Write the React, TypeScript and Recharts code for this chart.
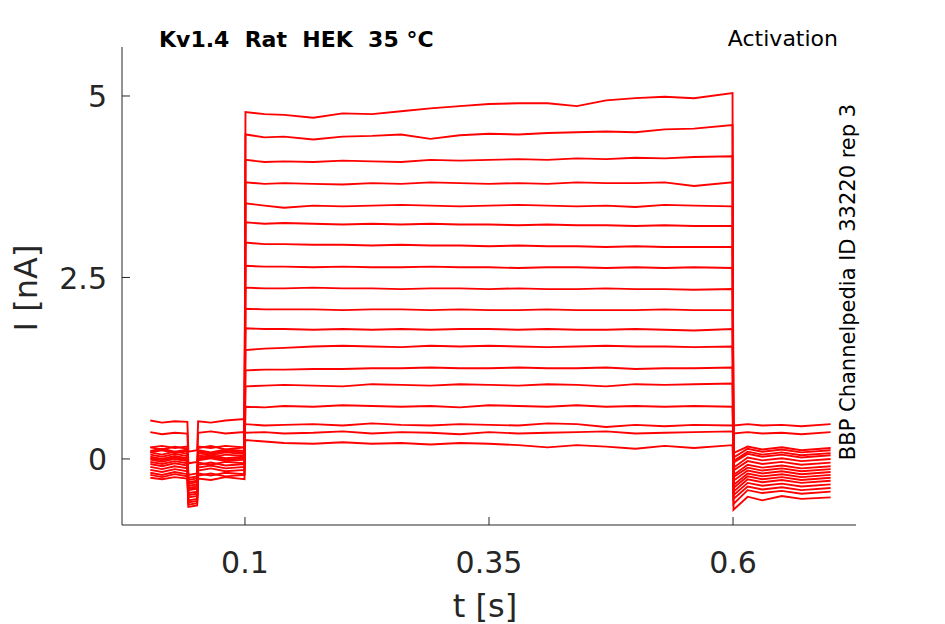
import React from 'react'
import { LineChart, Line, XAxis, YAxis } from 'recharts'

// sample times (s): holding, step, tail
const preTimes = [0.003, 0.015, 0.028, 0.041, 0.042, 0.051, 0.052, 0.065, 0.08, 0.0995]
const stepTimes = [0.1005, 0.12, 0.14, 0.17, 0.2, 0.23, 0.26, 0.29, 0.32, 0.35, 0.38, 0.41, 0.44, 0.47, 0.5, 0.53, 0.56, 0.5995]
const tailTimes = [0.6005, 0.615, 0.63, 0.65, 0.67, 0.7]

// current traces in nA, one per voltage step
const trace01 = [-0.04, -0.07, -0.03, -0.06, -0.47, -0.45, -0.05, -0.08, -0.04, -0.06,
  4.78, 4.75, 4.74, 4.7, 4.76, 4.75, 4.79, 4.83, 4.86, 4.89, 4.9, 4.9, 4.86, 4.94, 4.97, 4.99, 4.97, 5.04,
  -0.55, -0.38, -0.42, -0.39, -0.43, -0.4]
const trace02 = [0.09, 0.12, 0.08, 0.11, -0.32, -0.3, 0.1, 0.07, 0.11, 0.09,
  4.47, 4.43, 4.44, 4.4, 4.44, 4.45, 4.47, 4.41, 4.46, 4.48, 4.47, 4.49, 4.5, 4.51, 4.5, 4.54, 4.55, 4.6,
  -0.3, -0.16, -0.2, -0.17, -0.21, -0.18]
const trace03 = [-0.19, -0.22, -0.18, -0.21, -0.6, -0.58, -0.2, -0.23, -0.19, -0.21,
  4.12, 4.09, 4.1, 4.09, 4.11, 4.1, 4.09, 4.12, 4.11, 4.12, 4.13, 4.12, 4.14, 4.13, 4.15, 4.14, 4.16, 4.17,
  -0.05, 0.07, 0.03, 0.06, 0.02, 0.05]
const trace04 = [0.03, 0.0, 0.04, 0.01, -0.4, -0.38, 0.02, 0.05, 0.01, 0.03,
  3.81, 3.79, 3.8, 3.79, 3.78, 3.8, 3.79, 3.81, 3.8, 3.79, 3.8, 3.79, 3.81, 3.8, 3.8, 3.81, 3.76, 3.81,
  -0.45, -0.28, -0.32, -0.29, -0.33, -0.3]
const trace05 = [-0.11, -0.14, -0.1, -0.13, -0.53, -0.51, -0.12, -0.09, -0.13, -0.11,
  3.52, 3.49, 3.46, 3.49, 3.48, 3.49, 3.5, 3.49, 3.48, 3.49, 3.5, 3.49, 3.48, 3.49, 3.47, 3.5, 3.49, 3.48,
  -0.22, -0.08, -0.12, -0.09, -0.13, -0.1]
const trace06 = [0.16, 0.13, 0.17, 0.14, -0.26, -0.24, 0.15, 0.18, 0.13, 0.16,
  3.26, 3.24, 3.25, 3.24, 3.23, 3.24, 3.23, 3.24, 3.23, 3.23, 3.22, 3.23, 3.22, 3.22, 3.21, 3.22, 3.21, 3.21,
  0.02, 0.14, 0.1, 0.13, 0.09, 0.12]
const trace07 = [-0.26, -0.28, -0.25, -0.27, -0.66, -0.64, -0.27, -0.29, -0.25, -0.28,
  2.98, 2.96, 2.96, 2.95, 2.95, 2.94, 2.95, 2.94, 2.94, 2.93, 2.94, 2.93, 2.93, 2.92, 2.93, 2.92, 2.92, 2.92,
  -0.7, -0.52, -0.57, -0.51, -0.55, -0.53]
const trace08 = [0.06, 0.03, 0.07, 0.04, -0.37, -0.35, 0.05, 0.02, 0.06, 0.04,
  2.66, 2.65, 2.65, 2.64, 2.65, 2.64, 2.64, 2.65, 2.64, 2.64, 2.63, 2.64, 2.64, 2.63, 2.64, 2.63, 2.64, 2.63,
  -0.36, -0.2, -0.24, -0.21, -0.25, -0.22]
const trace09 = [-0.07, -0.1, -0.06, -0.09, -0.5, -0.48, -0.08, -0.05, -0.09, -0.07,
  2.36, 2.35, 2.35, 2.36, 2.35, 2.35, 2.34, 2.35, 2.35, 2.34, 2.35, 2.34, 2.34, 2.35, 2.34, 2.34, 2.33, 2.34,
  -0.12, 0.02, -0.02, 0.01, -0.03, 0.0]
const trace10 = [0.11, 0.14, 0.1, 0.13, -0.29, -0.27, 0.12, 0.09, 0.13, 0.11,
  2.07, 2.06, 2.06, 2.06, 2.05, 2.06, 2.06, 2.05, 2.06, 2.05, 2.05, 2.06, 2.05, 2.05, 2.05, 2.06, 2.05, 2.05,
  -0.5, -0.33, -0.37, -0.34, -0.38, -0.35]
const trace11 = [-0.15, -0.18, -0.14, -0.17, -0.57, -0.55, -0.16, -0.13, -0.17, -0.15,
  1.8, 1.79, 1.79, 1.78, 1.79, 1.78, 1.79, 1.78, 1.79, 1.79, 1.78, 1.79, 1.78, 1.78, 1.79, 1.78, 1.77, 1.79,
  -0.03, 0.1, 0.06, 0.09, 0.05, 0.08]
const trace12 = [-0.01, -0.04, 0.0, -0.03, -0.43, -0.41, -0.02, 0.01, -0.03, -0.01,
  1.5, 1.52, 1.53, 1.55, 1.56, 1.55, 1.54, 1.56, 1.55, 1.56, 1.55, 1.54, 1.55, 1.56, 1.55, 1.55, 1.54, 1.55,
  -0.4, -0.24, -0.28, -0.25, -0.29, -0.26]
const trace13 = [0.09, 0.06, 0.1, 0.07, -0.34, -0.32, 0.08, 0.05, 0.09, 0.07,
  1.22, 1.23, 1.23, 1.24, 1.24, 1.25, 1.25, 1.26, 1.25, 1.25, 1.26, 1.25, 1.25, 1.26, 1.24, 1.25, 1.25, 1.26,
  -0.16, -0.03, -0.07, -0.04, -0.08, -0.05]
const trace14 = [-0.22, -0.25, -0.21, -0.24, -0.63, -0.61, -0.23, -0.2, -0.24, -0.22,
  1.0, 1.01, 1.02, 1.01, 1.0, 1.03, 1.02, 1.01, 1.03, 1.02, 1.01, 1.03, 1.02, 1.0, 1.03, 1.02, 1.03, 1.04,
  -0.62, -0.43, -0.47, -0.44, -0.48, -0.45]
const trace15 = [0.01, -0.02, 0.02, -0.01, -0.42, -0.4, 0.0, 0.03, -0.01, 0.01,
  0.72, 0.71, 0.73, 0.72, 0.74, 0.73, 0.72, 0.73, 0.71, 0.74, 0.73, 0.72, 0.74, 0.72, 0.73, 0.72, 0.73, 0.72,
  0.08, 0.17, 0.13, 0.16, 0.12, 0.15]
const trace16 = [0.53, 0.5, 0.52, 0.51, 0.1, 0.12, 0.52, 0.5, 0.53, 0.55,
  0.48, 0.46, 0.47, 0.48, 0.46, 0.49, 0.47, 0.46, 0.48, 0.47, 0.46, 0.49, 0.48, 0.44, 0.47, 0.45, 0.47, 0.46,
  0.46, 0.48, 0.46, 0.47, 0.45, 0.48]
const trace17 = [0.37, 0.34, 0.36, 0.35, -0.06, -0.04, 0.36, 0.38, 0.35, 0.37,
  0.36, 0.37, 0.35, 0.36, 0.38, 0.35, 0.37, 0.36, 0.34, 0.37, 0.35, 0.36, 0.37, 0.38, 0.35, 0.36, 0.37, 0.38,
  0.35, 0.37, 0.35, 0.36, 0.34, 0.37]
const trace18 = [0.16, 0.18, 0.15, 0.17, -0.22, -0.2, 0.17, 0.15, 0.18, 0.16,
  0.26, 0.24, 0.22, 0.21, 0.23, 0.21, 0.22, 0.2, 0.22, 0.21, 0.19, 0.16, 0.19, 0.17, 0.14, 0.18, 0.15, 0.19,
  -0.25, -0.12, -0.16, -0.13, -0.17, -0.14]

const traces = [trace01, trace02, trace03, trace04, trace05, trace06, trace07, trace08, trace09,
  trace10, trace11, trace12, trace13, trace14, trace15, trace16, trace17, trace18]

const xTicks = [0.1, 0.35, 0.6]
const yTicks = [0, 2.5, 5]

const times = [...preTimes, ...stepTimes, ...tailTimes]
const data = times.map((t, i) => {
  const row: Record<string, number> = { t }
  traces.forEach((tr, k) => { row['s' + k] = tr[i] })
  return row
})

const axisColor = '#262626'
const font = 'DejaVu Sans, sans-serif'

const XTick = ({ x, y, payload }: any) => (
  <g>
    <line x1={x} x2={x} y1={y} y2={y - 8} stroke={axisColor} />
    <text x={x} y={y + 48} textAnchor="middle" fontSize={30} fontFamily={font} fill={axisColor}>
      {payload.value}
    </text>
  </g>
)

const YTick = ({ x, y, payload }: any) => (
  <g>
    <line x1={x} x2={x + 8} y1={y} y2={y} stroke={axisColor} />
    <text x={x - 15} y={y + 11.5} textAnchor="end" fontSize={30} fontFamily={font} fill={axisColor}>
      {payload.value}
    </text>
  </g>
)

export default function App() {
  return (
    <div style={{ position: 'absolute', left: 0, top: 0, width: 945, height: 624, background: '#fff' }}>
      <LineChart width={945} height={624} data={data}
        margin={{ top: 47, right: 89, bottom: 49, left: 62 }}>
        <XAxis dataKey="t" type="number" domain={[-0.026, 0.726]} allowDataOverflow
          ticks={xTicks} interval={0} tickSize={0} tickMargin={0} height={50}
          stroke={axisColor} tickLine={false} tick={<XTick />} />
        <YAxis type="number" domain={[-0.91, 5.675]} allowDataOverflow
          ticks={yTicks} interval={0} tickSize={0} tickMargin={0} width={60}
          stroke={axisColor} tickLine={false} tick={<YTick />} />
        {traces.map((_, k) => (
          <Line key={k} dataKey={'s' + k} type="linear" stroke="#ff0000" strokeWidth={1.9}
            dot={false} isAnimationActive={false} />
        ))}
      </LineChart>
      <svg width={945} height={624} style={{ position: 'absolute', left: 0, top: 0, pointerEvents: 'none' }}>
        <text x={159} y={47} fontSize={22} fontWeight="bold" fontFamily={font} fill="#000" style={{ whiteSpace: 'pre' }}>
          {'Kv1.4  Rat  HEK  35 °C'}
        </text>
        <text x={838} y={46} textAnchor="end" fontSize={22} fontFamily={font} fill="#000">Activation</text>
        <text x={855} y={282} textAnchor="middle" fontSize={21} fontFamily={font} fill="#000"
          transform="rotate(-90 855 282)">BBP Channelpedia ID 33220 rep 3</text>
        <text x={37} y={288} textAnchor="middle" fontSize={32} fontFamily={font} fill={axisColor}
          transform="rotate(-90 37 288)">I [nA]</text>
        <text x={485} y={617} textAnchor="middle" fontSize={32} fontFamily={font} fill={axisColor}>t [s]</text>
      </svg>
    </div>
  )
}
